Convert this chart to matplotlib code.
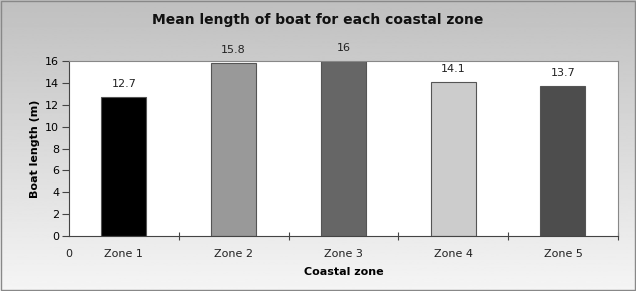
import numpy as np
import matplotlib.pyplot as plt

# Data
zones = ['Zone 1', 'Zone 2', 'Zone 3', 'Zone 4', 'Zone 5']
lengths = [12.7, 15.8, 16, 14.1, 13.7]
bar_colors = ['#000000', '#999999', '#666666', '#cccccc', '#4d4d4d']
yticks = [0, 2, 4, 6, 8, 10, 12, 14, 16]

fig = plt.figure(figsize=(6.36, 2.91), dpi=100)

# Gradient background for the whole figure
bg = fig.add_axes([0, 0, 1, 1], zorder=-10)
grad = np.linspace(0.75, 0.96, 256).reshape(-1, 1)
bg.imshow(grad, cmap='gray', vmin=0, vmax=1, aspect='auto', extent=[0, 1, 1, 0])
bg.set_xlim(0, 1)
bg.set_ylim(1, 0)
bg.axis('off')
bg.add_patch(plt.Rectangle((0.001, 0.002), 0.997, 0.995, fill=False,
                           edgecolor='#888888', lw=1, transform=bg.transAxes))

ax = fig.add_axes([0.1085, 0.189, 0.863, 0.601])
x = np.arange(len(zones)) + 0.5
bars = ax.bar(x, lengths, width=0.41, color=bar_colors, edgecolor='#555555', lw=0.8)

for xi, v in zip(x, lengths):
    ax.annotate(f'{v:g}', (xi, v), xytext=(0, 6), textcoords='offset points',
                ha='center', va='bottom', fontsize=8, color='#222222',
                annotation_clip=False)

ax.set_xlim(0, 5)
ax.set_ylim(0, 16)
ax.set_yticks(yticks)
ax.set_xticks([1, 2, 3, 4, 5])
ax.set_xticklabels([])
ax.tick_params(axis='x', direction='inout', length=6, width=0.8, color='#444444')
ax.tick_params(axis='y', direction='out', length=5, width=0.8, color='#444444',
               labelsize=8, pad=2)
for xi, name in zip(x, zones):
    ax.text(xi, -1.2, name, ha='center', va='top', fontsize=8, color='#222222')
ax.text(0, -1.2, '0', ha='center', va='top', fontsize=8, color='#222222')

for s in ['left', 'bottom']:
    ax.spines[s].set_color('#444444')
ax.spines['top'].set_color('#888888')
ax.spines['right'].set_color('#888888')

ax.set_ylabel('Boat length (m)', fontsize=8, fontweight='bold', labelpad=4)
ax.set_xlabel('Coastal zone', fontsize=8, fontweight='bold', labelpad=16)
fig.text(0.5, 0.93, 'Mean length of boat for each coastal zone', ha='center',
         va='center', fontsize=10, fontweight='bold', color='#111111')

fig.savefig('out.png', dpi=100)
